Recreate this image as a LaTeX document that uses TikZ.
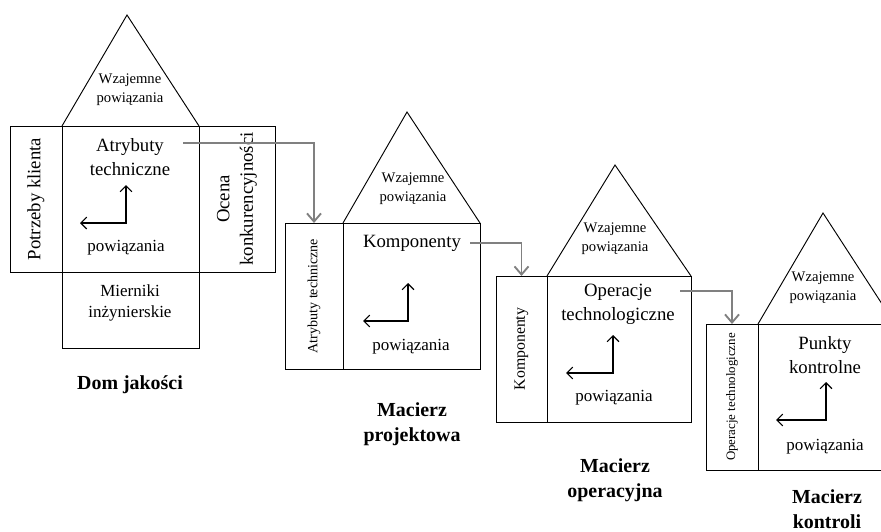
\documentclass[tikz,border=0pt]{standalone}
\usepackage{fontspec}
\setmainfont{Liberation Serif}
\usepackage{tikz}
\usetikzlibrary{arrows.meta, positioning, calc}
\definecolor{linkgray}{RGB}{128, 128, 128}
\tikzset{
    pane/.style 2 args={rectangle, draw, line width=0.8pt, inner sep=0pt,
                        outer sep=0pt, minimum width=#1*0.03cm,
                        minimum height=#2*0.03cm},
    roof/.style={font=\fontsize{12.5}{16}\selectfont, align=center,
                 inner sep=0pt},
    head/.style={font=\fontsize{16}{20.5}\selectfont, align=center,
                 inner sep=0pt},
    low/.style={font=\fontsize{14.5}{17.5}\selectfont, align=center,
                inner sep=0pt},
    side/.style={rotate=90, align=center, inner sep=0pt},
    caption/.style={font=\fontsize{17}{21}\selectfont\bfseries,
                    align=center, inner sep=0pt},
    link/.style={line width=1.6pt, linkgray,
                 -{Straight Barb[length=7pt, width=12pt]}},
    rel/.style={line width=1pt, {Straight Barb[length=5pt, width=10pt]}-%
                {Straight Barb[length=5pt, width=10pt]}},
}

\begin{document}
\begin{tikzpicture}[x=0.03cm, y=-0.03cm]
    \useasboundingbox (0,0) rectangle (881,531);
    \clip (0,0) rectangle (881,531);

    % Dom jakosci
    \node[pane={52}{146}] (L1) at (36,199) {};
    \node[pane={137}{146}] (M1) at (130.5,199) {};
    \node[pane={76}{146}] (R1) at (237,199) {};
    \node[pane={137}{76}] (B1) at (130.5,310) {};
    \coordinate (top1) at (127,15);
    \draw[line width=0.8pt] (M1.north west) -- (top1) -- (M1.north east);
    \node[roof] (r1) at (130,90) {Wzajemne\\powiązania};
    \node[head] (h1) at (130,157) {Atrybuty\\techniczne};
    \node[low] (p1) at (126,248) {powiązania};
    \node[side, font=\fontsize{16}{19}\selectfont] (s1) at (L1) {Potrzeby klienta};
    \node[side, font=\fontsize{16}{20}\selectfont] (o1) at (R1) {Ocena\\konkurencyjności};
    \node[low] (m1) at (130,303) {Mierniki\\inżynierskie};
    \node[caption] (c1) at (130,385) {Dom jakości};
    \coordinate (up1) at (126,185);
    \coordinate (lt1) at (80,223);
    \draw[rel] (up1) |- (lt1);
    \coordinate (out1) at (183,143);

    % Macierz projektowa
    \node[pane={58}{146}] (L2) at (314,296) {};
    \node[pane={137}{146}] (M2) at (411.5,296) {};
    \coordinate (top2) at (407,112);
    \draw[line width=0.8pt] (M2.north west) -- (top2) -- (M2.north east);
    \node[roof] (r2) at (413,189) {Wzajemne\\powiązania};
    \node[head] (h2) at (412,243) {Komponenty};
    \node[low] (p2) at (411,347) {powiązania};
    \node[side, font=\fontsize{12}{14}\selectfont] (s2) at (L2) {Atrybuty techniczne};
    \node[caption] (c2) at (412,424) {Macierz\\projektowa};
    \coordinate (up2) at (408,283);
    \coordinate (lt2) at (363,321);
    \draw[rel] (up2) |- (lt2);
    \coordinate (out2) at (470,243);

    % Macierz operacyjna
    \node[pane={51}{146}] (L3) at (521.5,349) {};
    \node[pane={144}{146}] (M3) at (619,349) {};
    \coordinate (top3) at (615,165);
    \draw[line width=0.8pt] (M3.north west) -- (top3) -- (M3.north east);
    \node[roof] (r3) at (615,239) {Wzajemne\\powiązania};
    \node[head] (h3) at (618,304) {Operacje\\technologiczne};
    \node[low] (p3) at (614,398) {powiązania};
    \node[side, font=\fontsize{13.5}{16}\selectfont] (s3) at (L3) {Komponenty};
    \node[caption] (c3) at (615,480) {Macierz\\operacyjna};
    \coordinate (up3) at (613,335);
    \coordinate (lt3) at (566,373);
    \draw[rel] (up3) |- (lt3);
    \coordinate (out3) at (680,291);

    % Macierz kontroli
    \node[pane={52}{146}] (L4) at (732,397) {};
    \node[pane={137}{146}] (M4) at (826.5,397) {};
    \coordinate (top4) at (823,213);
    \draw[line width=0.8pt] (M4.north west) -- (top4) -- (M4.north east);
    \node[roof] (r4) at (823,288) {Wzajemne\\powiązania};
    \node[head] (h4) at (825,355) {Punkty\\kontrolne};
    \node[low] (p4) at (825,447) {powiązania};
    \node[side, font=\fontsize{11}{13}\selectfont] (s4) at (L4) {Operacje technologiczne};
    \node[caption] (c4) at (827,509) {Macierz\\kontroli};
    \coordinate (up4) at (826,382);
    \coordinate (lt4) at (776,420);
    \draw[rel] (up4) |- (lt4);

    % Links between matrices
    \draw[link] (out1) -| (L2.north);
    \draw[link] (out2) -| (L3.north);
    \draw[link] (out3) -| (L4.north);
\end{tikzpicture}
\end{document}
